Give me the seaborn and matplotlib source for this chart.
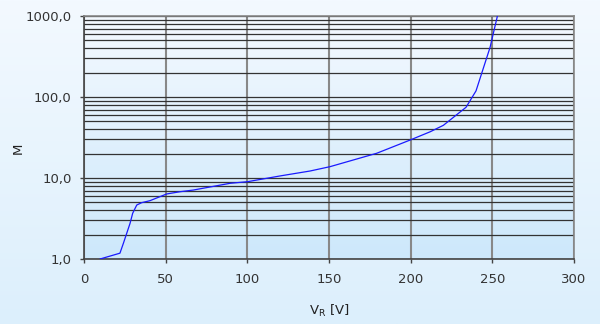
import numpy as np
import pandas as pd
import matplotlib
matplotlib.use("Agg")
import matplotlib.pyplot as plt
import seaborn as sns
from matplotlib.colors import LinearSegmentedColormap
from matplotlib.ticker import FixedLocator, LogLocator, NullFormatter

# Data
v_r = [9.8, 22, 24.1, 28.2, 29.8, 32.3, 35.3, 40.4, 50.6, 58.8, 66.9, 89.4, 100,
       120, 138.4, 150.6, 179.2, 199.6, 211.9, 220, 233.9, 240, 248.6, 250.6, 253.1]
m_gain = [1.0, 1.18, 1.56, 2.76, 3.67, 4.64, 4.96, 5.25, 6.35, 6.77, 7.1, 8.6, 9.0,
          10.6, 12.2, 13.8, 20.2, 29.4, 37.2, 44.7, 74.7, 119, 410, 611, 1000]
x_ticks = [0, 50, 100, 150, 200, 250, 300]
y_ticks = [1, 10, 100, 1000]
y_tick_labels = ["1,0", "10,0", "100,0", "1000,0"]

df = pd.DataFrame({"V": v_r, "M": m_gain})

sns.set_theme(style="white")
plt.rcParams['font.family'] = ['DejaVu Sans']

fig = plt.figure(figsize=(6, 3.24), dpi=100)
fig.patch.set_facecolor("#eaf5fd")

# figure-wide soft gradient
bg = fig.add_axes([0, 0, 1, 1], zorder=-10)
bg.axis("off")
gcmap_fig = LinearSegmentedColormap.from_list("bgf", ["#dceffc", "#f3f9ff"])
bg.imshow(np.linspace(0, 1, 256).reshape(-1, 1), aspect="auto", cmap=gcmap_fig,
          origin="lower", extent=[0, 1, 0, 1])

ax = fig.add_axes([0.14, 0.2006, 0.8167, 0.75])
ax.set_facecolor("none")
gcmap = LinearSegmentedColormap.from_list("bg", ["#cde8fb", "#f4f9ff"])
ax.imshow(np.linspace(0, 1, 256).reshape(-1, 1), aspect="auto", cmap=gcmap,
          origin="lower", extent=[0, 1, 0, 1], transform=ax.transAxes, zorder=0)

sns.lineplot(data=df, x="V", y="M", ax=ax, sort=False, estimator=None,
             color="#1a1aff", linewidth=0.9, zorder=5)

ax.set_yscale("log")
ax.set_xlim(0, 300)
ax.set_ylim(1, 1000)
ax.xaxis.set_major_locator(FixedLocator(x_ticks))
ax.set_xticklabels([str(t) for t in x_ticks])
ax.yaxis.set_major_locator(FixedLocator(y_ticks))
ax.set_yticklabels(y_tick_labels)
ax.yaxis.set_minor_locator(LogLocator(base=10, subs=np.arange(2, 10)))
ax.yaxis.set_minor_formatter(NullFormatter())

ax.grid(True, which="both", axis="y", color="#333333", linewidth=0.9, zorder=1)
ax.grid(True, which="major", axis="x", color="#888888", linewidth=1.5, zorder=1)

for s in ["top", "right"]:
    ax.spines[s].set_color("#888888")
    ax.spines[s].set_linewidth(1.2)
for s in ["left", "bottom"]:
    ax.spines[s].set_color("#444444")
    ax.spines[s].set_linewidth(1.2)

ax.tick_params(axis="both", which="major", direction="out", length=3, width=1,
               color="#444444", labelsize=9.5, labelcolor="#333333")
ax.tick_params(axis="y", which="major", pad=6)
ax.tick_params(axis="x", which="major", pad=7)
ax.tick_params(axis="y", which="minor", length=0)
ax.tick_params(left=True, bottom=True)

ax.set_xlabel(r"V$_\mathregular{R}$ [V]", fontsize=9.5, color="#222222")
ax.set_ylabel("M", fontsize=9.5, color="#222222")
ax.xaxis.set_label_coords(0.5, -0.18)
ax.yaxis.set_label_coords(-0.12, 0.455)

fig.savefig("out.png", dpi=100, facecolor=fig.get_facecolor())
